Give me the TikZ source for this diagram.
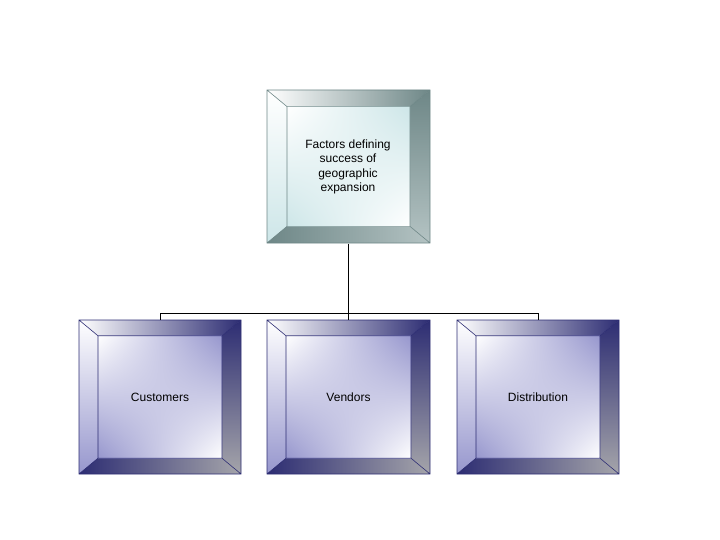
\documentclass[tikz,border=0pt]{standalone}
\usepackage{fontspec}
\setmainfont{Liberation Sans}
\usetikzlibrary{shadings}
\begin{document}
\begin{tikzpicture}[x=1pt,y=-1pt,
  lbl/.style={font=\fontsize{12}{14.5}\selectfont,align=center,inner sep=0pt},
  box/.style={minimum width=#1,minimum height=154pt,inner sep=0pt,draw=none},
  conn/.style={draw=black,line width=0.8pt}]
\useasboundingbox (0,0) rectangle (720,540);
\definecolor{nv}{RGB}{45,45,115}
\definecolor{lv}{RGB}{150,150,205}
\definecolor{tl}{RGB}{205,230,232}
\definecolor{tg}{RGB}{110,135,135}
\definecolor{tm}{RGB}{180,195,195}
\definecolor{gm}{RGB}{165,165,170}
\newcommand{\bevbox}[9]{%
 \shade[left color=white,right color=#7] (#1,#2)--(#3,#2)--(#3-#5,#2+#5*0.83)--(#1+#5,#2+#5*0.83)--cycle;
 \shade[top color=white,bottom color=#6] (#1,#2)--(#1+#5,#2+#5*0.83)--(#1+#5,#4-#5*0.83)--(#1,#4)--cycle;
 \shade[top color=#7,bottom color=#8] (#3,#2)--(#3,#4)--(#3-#5,#4-#5*0.83)--(#3-#5,#2+#5*0.83)--cycle;
 \shade[left color=#7,right color=#8] (#1,#4)--(#3,#4)--(#3-#5,#4-#5*0.83)--(#1+#5,#4-#5*0.83)--cycle;
 \shade[lower left=#9,upper right=#9,lower right=white,upper left=white] (#1+#5,#2+#5*0.83) rectangle (#3-#5,#4-#5*0.83);
 \draw[#7,line width=0.6pt] (#1,#2) rectangle (#3,#4) (#1+#5,#2+#5*0.83) rectangle (#3-#5,#4-#5*0.83)
   (#1,#2)--(#1+#5,#2+#5*0.83) (#3,#2)--(#3-#5,#2+#5*0.83) (#1,#4)--(#1+#5,#4-#5*0.83) (#3,#4)--(#3-#5,#4-#5*0.83);
}
\bevbox{267}{90}{430}{243}{20}{tl}{tg}{tm}{tl}
\bevbox{79}{320}{241}{474}{19}{lv}{nv}{gm}{lv}
\bevbox{267}{320}{430}{474}{19}{lv}{nv}{gm}{lv}
\bevbox{457}{320}{619}{474}{19}{lv}{nv}{gm}{lv}
\node[box=163pt] (top) at (348.5,166.5) {};
\node[lbl] (toptext) at (348,167) {Factors defining\\success of\\geographic\\expansion};
\node[box=162pt] (cust) at (160,397) {};
\node[box=163pt] (vend) at (348.5,397) {};
\node[box=162pt] (dist) at (538,397) {};
\node[lbl] at (cust) {Customers};
\node[lbl] at (vend) {Vendors};
\node[lbl] at (dist) {Distribution};
\coordinate (bus) at (348.5,313);
\draw[conn] (top.south) -- (bus);
\draw[conn] (cust.north) -- (cust.north |- bus) -- (dist.north |- bus) -- (dist.north);
\draw[conn] (bus) -- (vend.north);
\end{tikzpicture}
\end{document}
